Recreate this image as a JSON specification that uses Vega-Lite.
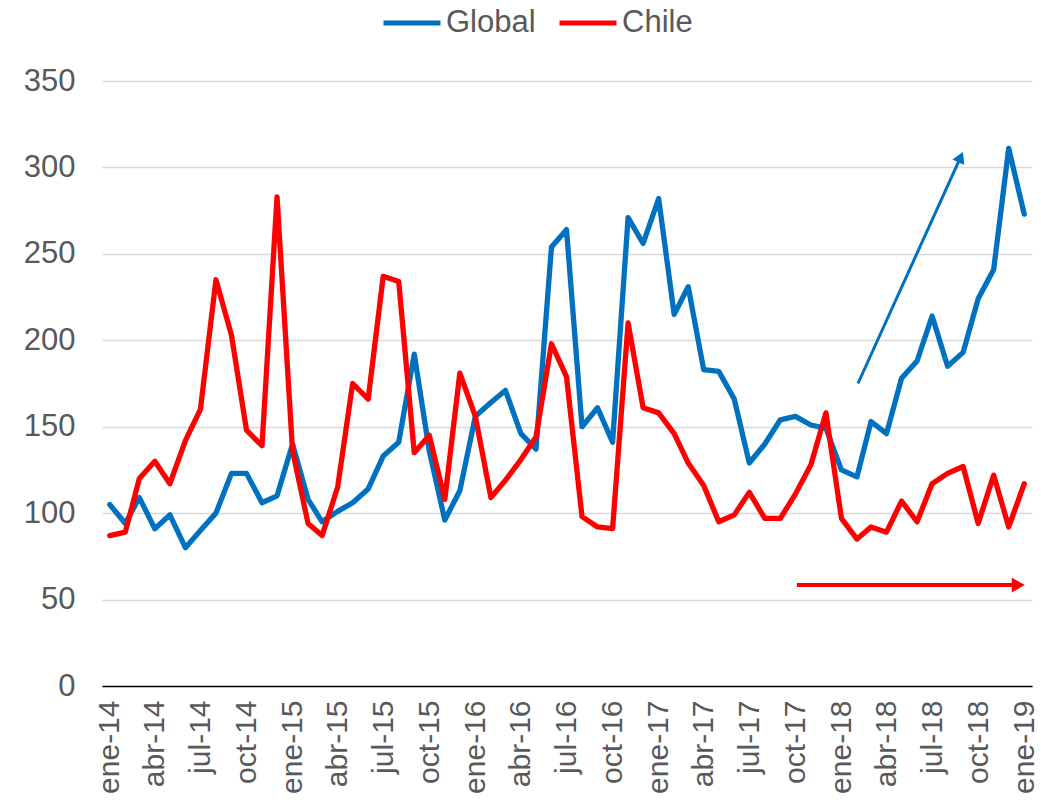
{
  "$schema": "https://vega.github.io/schema/vega-lite/v6.json",
  "autosize": {"type": "none"},
  "padding": {"left": 102, "top": 81, "right": 9, "bottom": 117},
  "width": 930,
  "height": 605,
  "background": "white",
  "config": {"view": {"stroke": null}, "font": "Liberation Sans"},
  "datasets": {
    "series": [
      {"fecha": "2014-01-01", "Global": 105, "Chile": 87},
      {"fecha": "2014-02-01", "Global": 94, "Chile": 89},
      {"fecha": "2014-03-01", "Global": 109, "Chile": 120},
      {"fecha": "2014-04-01", "Global": 91, "Chile": 130},
      {"fecha": "2014-05-01", "Global": 99, "Chile": 117},
      {"fecha": "2014-06-01", "Global": 80, "Chile": 142},
      {"fecha": "2014-07-01", "Global": 90, "Chile": 160},
      {"fecha": "2014-08-01", "Global": 100, "Chile": 235},
      {"fecha": "2014-09-01", "Global": 123, "Chile": 203},
      {"fecha": "2014-10-01", "Global": 123, "Chile": 148},
      {"fecha": "2014-11-01", "Global": 106, "Chile": 139},
      {"fecha": "2014-12-01", "Global": 110, "Chile": 283},
      {"fecha": "2015-01-01", "Global": 140, "Chile": 136},
      {"fecha": "2015-02-01", "Global": 108, "Chile": 94},
      {"fecha": "2015-03-01", "Global": 95, "Chile": 87},
      {"fecha": "2015-04-01", "Global": 101, "Chile": 115},
      {"fecha": "2015-05-01", "Global": 106, "Chile": 175},
      {"fecha": "2015-06-01", "Global": 114, "Chile": 166},
      {"fecha": "2015-07-01", "Global": 133, "Chile": 237},
      {"fecha": "2015-08-01", "Global": 141, "Chile": 234},
      {"fecha": "2015-09-01", "Global": 192, "Chile": 135},
      {"fecha": "2015-10-01", "Global": 136, "Chile": 145},
      {"fecha": "2015-11-01", "Global": 96, "Chile": 108},
      {"fecha": "2015-12-01", "Global": 113, "Chile": 181},
      {"fecha": "2016-01-01", "Global": 156, "Chile": 156},
      {"fecha": "2016-02-01", "Global": 164, "Chile": 109},
      {"fecha": "2016-03-01", "Global": 171, "Chile": 119},
      {"fecha": "2016-04-01", "Global": 146, "Chile": 131},
      {"fecha": "2016-05-01", "Global": 137, "Chile": 144},
      {"fecha": "2016-06-01", "Global": 254, "Chile": 198},
      {"fecha": "2016-07-01", "Global": 264, "Chile": 179},
      {"fecha": "2016-08-01", "Global": 150, "Chile": 98},
      {"fecha": "2016-09-01", "Global": 161, "Chile": 92},
      {"fecha": "2016-10-01", "Global": 141, "Chile": 91},
      {"fecha": "2016-11-01", "Global": 271, "Chile": 210},
      {"fecha": "2016-12-01", "Global": 256, "Chile": 161},
      {"fecha": "2017-01-01", "Global": 282, "Chile": 158},
      {"fecha": "2017-02-01", "Global": 215, "Chile": 146},
      {"fecha": "2017-03-01", "Global": 231, "Chile": 129},
      {"fecha": "2017-04-01", "Global": 183, "Chile": 116},
      {"fecha": "2017-05-01", "Global": 182, "Chile": 95},
      {"fecha": "2017-06-01", "Global": 166, "Chile": 99},
      {"fecha": "2017-07-01", "Global": 129, "Chile": 112},
      {"fecha": "2017-08-01", "Global": 140, "Chile": 97},
      {"fecha": "2017-09-01", "Global": 154, "Chile": 97},
      {"fecha": "2017-10-01", "Global": 156, "Chile": 111},
      {"fecha": "2017-11-01", "Global": 151, "Chile": 128},
      {"fecha": "2017-12-01", "Global": 149, "Chile": 158},
      {"fecha": "2018-01-01", "Global": 125, "Chile": 97},
      {"fecha": "2018-02-01", "Global": 121, "Chile": 85},
      {"fecha": "2018-03-01", "Global": 153, "Chile": 92},
      {"fecha": "2018-04-01", "Global": 146, "Chile": 89},
      {"fecha": "2018-05-01", "Global": 178, "Chile": 107},
      {"fecha": "2018-06-01", "Global": 188, "Chile": 95},
      {"fecha": "2018-07-01", "Global": 214, "Chile": 117},
      {"fecha": "2018-08-01", "Global": 185, "Chile": 123},
      {"fecha": "2018-09-01", "Global": 193, "Chile": 127},
      {"fecha": "2018-10-01", "Global": 224, "Chile": 94},
      {"fecha": "2018-11-01", "Global": 241, "Chile": 122},
      {"fecha": "2018-12-01", "Global": 311, "Chile": 92},
      {"fecha": "2019-01-01", "Global": 273, "Chile": 117}
    ]
  },
  "layer": [
    {
      "data": {"name": "series"},
      "mark": {"type": "line", "strokeWidth": 5.3, "strokeJoin": "round", "strokeCap": "round"},
      "encoding": {
        "x": {
          "field": "fecha", "type": "temporal", "title": null,
          "scale": {"type": "utc", "domain": [
            {"year": 2013, "month": 12, "date": 16, "hours": 12, "utc": true},
            {"year": 2019, "month": 1, "date": 16, "hours": 12, "utc": true}
          ]},
          "axis": {
            "title": null,
            "tickCount": {"interval": "month", "step": 3},
            "labelExpr": "['ene','feb','mar','abr','may','jun','jul','ago','sep','oct','nov','dic'][utcmonth(datum.value)] + '-' + utcFormat(datum.value, '%y')",
            "labelAngle": -90,
            "labelFontSize": 30,
            "labelColor": "#595959",
            "labelFont": "Liberation Sans",
            "labelPadding": 14,
            "labelOverlap": false,
            "labelFlush": false,
            "labelBound": false,
            "ticks": false,
            "grid": false,
            "domainColor": "#000000",
            "domainWidth": 1.5
          }
        },
        "y": {
          "field": "Global", "type": "quantitative", "title": null,
          "scale": {"domain": [0, 350], "nice": false, "zero": true},
          "axis": {
            "title": null,
            "values": [0, 50, 100, 150, 200, 250, 300, 350],
            "labelFontSize": 31,
            "labelColor": "#595959",
            "labelFont": "Liberation Sans",
            "labelPadding": 27,
            "ticks": false,
            "domain": false,
            "gridColor": "#D9D9D9",
            "gridWidth": 1.5
          }
        },
        "color": {
          "datum": "Global", "type": "nominal",
          "scale": {"domain": ["Global", "Chile"], "range": ["#0070C0", "#FF0000"]},
          "legend": {
            "title": null,
            "orient": "none",
            "legendX": 279,
            "legendY": -89,
            "direction": "horizontal",
            "symbolType": "stroke",
            "symbolSize": 3249,
            "symbolStrokeWidth": 5,
            "labelFontSize": 31,
            "labelColor": "#595959",
            "labelFont": "Liberation Sans",
            "labelOffset": 3,
            "columnPadding": 13,
            "padding": 0
          }
        }
      }
    },
    {
      "data": {"name": "series"},
      "mark": {"type": "line", "strokeWidth": 5.3, "strokeJoin": "round", "strokeCap": "round"},
      "encoding": {
        "x": {"field": "fecha", "type": "temporal", "title": null},
        "y": {"field": "Chile", "type": "quantitative", "title": null},
        "color": {"datum": "Chile", "type": "nominal"}
      }
    },
    {
      "data": {"values": [{"fecha": "2018-02-03", "valor": 175, "fecha_fin": "2018-08-27", "valor_fin": 306}]},
      "mark": {"type": "rule", "strokeWidth": 3, "color": "#0070C0"},
      "encoding": {
        "x": {"field": "fecha", "type": "temporal", "title": null},
        "x2": {"field": "fecha_fin"},
        "y": {"field": "valor", "type": "quantitative", "title": null},
        "y2": {"field": "valor_fin"}
      }
    },
    {
      "data": {"values": [{"fecha": "2018-08-27", "valor": 306}]},
      "mark": {"type": "point", "shape": "triangle-up", "angle": 24.4, "size": 170, "filled": true, "opacity": 1, "color": "#0070C0"},
      "encoding": {
        "x": {"field": "fecha", "type": "temporal", "title": null},
        "y": {"field": "valor", "type": "quantitative", "title": null}
      }
    },
    {
      "data": {"values": [{"fecha": "2017-10-04", "valor": 58.4, "fecha_fin": "2018-12-20", "valor_fin": 58.4}]},
      "mark": {"type": "rule", "strokeWidth": 4, "color": "#FF0000"},
      "encoding": {
        "x": {"field": "fecha", "type": "temporal", "title": null},
        "x2": {"field": "fecha_fin"},
        "y": {"field": "valor", "type": "quantitative", "title": null},
        "y2": {"field": "valor_fin"}
      }
    },
    {
      "data": {"values": [{"fecha": "2018-12-20", "valor": 58.4}]},
      "mark": {"type": "point", "shape": "triangle-up", "angle": 90, "size": 225, "filled": true, "opacity": 1, "color": "#FF0000"},
      "encoding": {
        "x": {"field": "fecha", "type": "temporal", "title": null},
        "y": {"field": "valor", "type": "quantitative", "title": null}
      }
    }
  ]
}
